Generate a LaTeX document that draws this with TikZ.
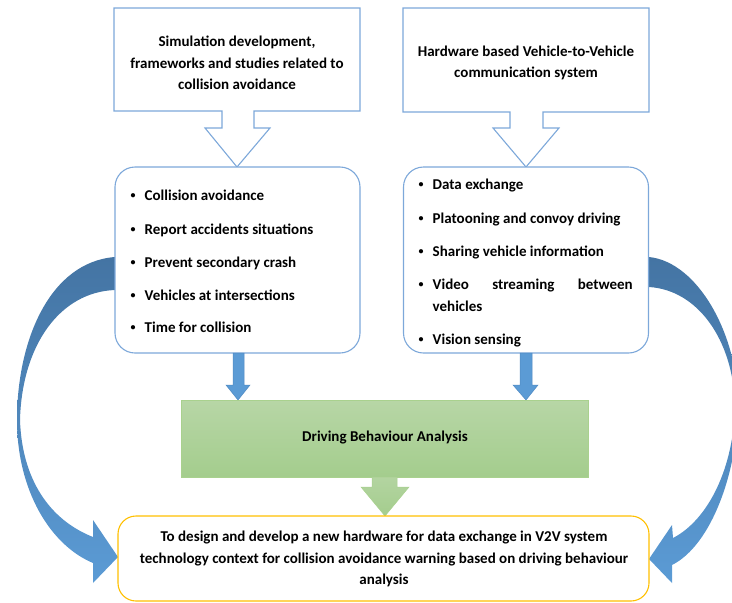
\documentclass[tikz,border=0pt]{standalone}
\usepackage{fontspec}
\setmainfont{Carlito}
\definecolor{boxblue}{RGB}{125,168,218}
\definecolor{arrowblue}{RGB}{91,155,213}
\definecolor{arrowedge}{RGB}{80,138,195}
\definecolor{swoopdark}{RGB}{68,116,163}
\definecolor{swoopmid}{RGB}{74,127,178}
\definecolor{greentop}{RGB}{183,214,166}
\definecolor{greenbot}{RGB}{164,205,141}
\definecolor{greenedge}{RGB}{169,209,142}
\definecolor{goalyellow}{RGB}{255,192,0}
\begin{document}
\begin{tikzpicture}[x=1pt,y=-1pt,
  txt/.style={font=\fontsize{15}{21.5}\selectfont\bfseries, inner sep=0pt, text=black},
  itemtxt/.style={txt, anchor=base west},
  panel/.style={draw=boxblue, line width=1.1pt, fill=white},
  listbox/.style={panel, rounded corners=20pt, minimum width=245pt, minimum height=186pt},
  downarrow/.style={fill=arrowblue, draw=arrowedge, line width=0.5pt},
  swoop/.style={top color=swoopdark, middle color=swoopmid, bottom color=arrowblue, draw=none},
  greenbox/.style={top color=greentop, bottom color=greenbot, draw=greenedge, line width=0.8pt,
    minimum width=407pt, minimum height=77pt},
  goalbox/.style={draw=goalyellow, line width=1.1pt, fill=white, rounded corners=18pt,
    minimum width=531pt, minimum height=85pt}
]
\useasboundingbox (0,0) rectangle (732,603);
\clip (0,0) rectangle (732,603);

% large curved arrows round the sides
\path[swoop] (115,257) .. controls (50,262) and (17,340) .. (17,420)
  .. controls (17,490) and (50,545) .. (93,563)
  -- (93,583) -- (118,557) -- (93,520) -- (93,537)
  .. controls (50,520) and (22,480) .. (20,420)
  .. controls (22,345) and (60,292) .. (115,290) -- cycle;
\path[swoop] (649,257) .. controls (698,262) and (738,335) .. (738,405)
  .. controls (738,470) and (712,545) .. (672,565)
  -- (672,583) -- (649,559) -- (672,525) -- (673,538)
  .. controls (708,520) and (734,468) .. (735,405)
  .. controls (733,340) and (698,290) .. (649,287) -- cycle;

% callout boxes at the top
\draw[panel] (114,8) -- (360,8) -- (360,111) -- (254,111) -- (254,128) -- (270,128)
  -- (237,167) -- (205,128) -- (222,128) -- (222,111) -- (114,111) -- cycle;
\draw[panel] (403,8) -- (649,8) -- (649,112) -- (543,112) -- (543,128) -- (559,128)
  -- (526,167) -- (493,128) -- (510,128) -- (510,112) -- (403,112) -- cycle;
\node[txt, align=center] (simtitle) at (237,63)
  {Simulation development,\\frameworks and studies related to\\collision avoidance};
\node[txt, align=center] (hwtitle) at (526,63)
  {Hardware based Vehicle-to-Vehicle\\communication system};

% bullet panels
\node[listbox] (leftlist) at (237.5,260) {};
\node[listbox] (rightlist) at (526,260) {};
\newcommand{\bul}{\makebox[14pt][l]{\raisebox{1.6pt}{\fontsize{10}{10}\selectfont •}}}
\node[itemtxt] (l1) at (130.5,200) {\bul Collision avoidance};
\node[itemtxt] (l2) at (130.5,234) {\bul Report accidents situations};
\node[itemtxt] (l3) at (130.5,267) {\bul Prevent secondary crash};
\node[itemtxt] (l4) at (130.5,300) {\bul Vehicles at intersections};
\node[itemtxt] (l5) at (130.5,332) {\bul Time for collision};
\node[itemtxt] (r1) at (418.5,189) {\bul Data exchange};
\node[itemtxt] (r2) at (418.5,223) {\bul Platooning and convoy driving};
\node[itemtxt] (r3) at (418.5,256) {\bul Sharing vehicle information};
\node[itemtxt] (r4) at (418.5,289) {\bul\makebox[200pt][s]{Video streaming between}};
\node[itemtxt] (r5) at (432.5,311) {vehicles};
\node[itemtxt] (r6) at (418.5,344) {\bul Vision sensing};

% small arrows into the analysis block
\draw[downarrow] (233,353) -- (244,353) -- (244,385) -- (250,385) -- (238,400)
  -- (226,385) -- (233,385) -- cycle;
\draw[downarrow] (520,353) -- (532,353) -- (532,385) -- (538,385) -- (526,400)
  -- (513,385) -- (520,385) -- cycle;

% analysis block and its arrow
\node[greenbox] (analysis) at (384.5,438.5) {};
\node[txt] (analysislabel) at (385,438) {Driving Behaviour Analysis};
\path[top color=greentop!80!greenbot, bottom color=greenbot, draw=greenedge, line width=0.5pt]
  (372,477) -- (372,487) -- (361,487) -- (385,516) -- (409,487) -- (397,487) -- (397,477) -- cycle;

% goal box
\node[goalbox] (goal) at (383.5,558.5) {};
\node[txt, align=center] (goaltext) at (384,559)
  {To design and develop a new hardware for data exchange in V2V system\\
   technology context for collision avoidance warning based on driving behaviour\\
   analysis};
\end{tikzpicture}
\end{document}
